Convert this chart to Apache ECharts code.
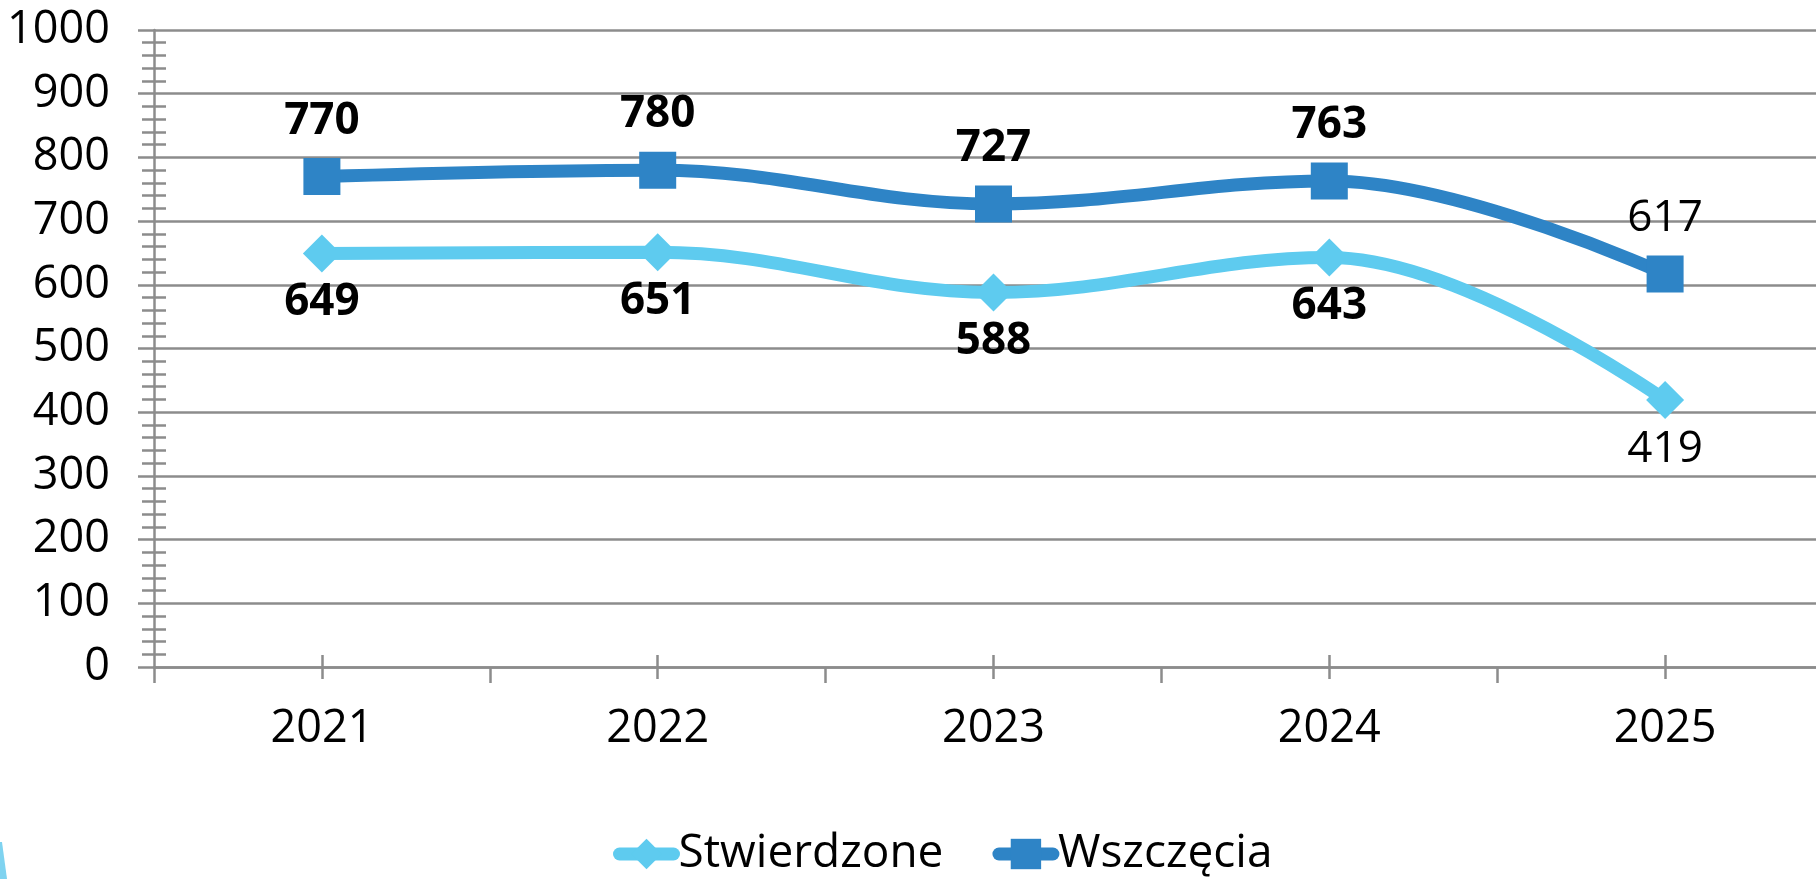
<!DOCTYPE html>
<html>
<head>
<meta charset="utf-8">
<script src="https://cdn.jsdelivr.net/npm/echarts@6/dist/echarts.min.js"></script>
<style>
  html, body { margin: 0; padding: 0; background: #fff; overflow: hidden; }
  /* chart is a bit wider than the window: the plot area runs past the right edge */
  #ec1 { width: 1840px; height: 879px; }
</style>
</head>
<body>
<div id="ec1"></div>
<script>
var years = ['2021', '2022', '2023', '2024', '2025'];
var stwierdzone = [649, 651, 588, 643, 419];
var wszczecia = [770, 780, 727, 763, 617];
var yTicks = [0, 100, 200, 300, 400, 500, 600, 700, 800, 900, 1000];
// last point label is drawn in normal weight in the original
var boldLabels = [true, true, true, true, false];

var FONT = '"Open Sans", "Noto Sans", sans-serif';
var GREY = '#8c8c8c';

function withLabels(values) {
    return values.map(function (v, i) {
        return {value: v, label: {fontWeight: boldLabels[i] ? 'bold' : 'normal'}};
    });
}

var myChart1 = echarts.init(document.getElementById('ec1'));

var option = {
    animation: false,
    color: ['#5ecbef', '#2e84c6'],
    grid: {left: 154, top: 30, right: 7, bottom: 212, containLabel: false},
    legend: {
        left: 608,
        top: 826,
        itemWidth: 54,
        itemHeight: 38,
        itemGap: 49,
        lineStyle: {width: 13, cap: 'round'},
        textStyle: {fontFamily: FONT, fontSize: 46, color: '#000'},
        data: ['Stwierdzone', 'Wszczęcia']
    },
    graphic: [{
        type: 'polygon',
        shape: {points: [[0, 842], [2, 842], [7, 879], [0, 879]]},
        style: {fill: '#7fd3f0'}
    }],
    xAxis: [
        {
            type: 'category',
            data: years,
            position: 'bottom',
            boundaryGap: true,
            axisLine: {lineStyle: {color: GREY, width: 2.5}},
            axisTick: {show: true, alignWithLabel: false, interval: 0, length: 16,
                lineStyle: {color: GREY, width: 2.5}},
            axisLabel: {fontFamily: FONT, fontSize: 45, color: '#000', margin: 40, interval: 0}
        },
        {
            type: 'category',
            data: years,
            position: 'bottom',
            boundaryGap: true,
            axisLine: {show: false},
            axisTick: {show: true, alignWithLabel: true, inside: true, interval: 0, length: 12,
                lineStyle: {color: GREY, width: 2.5}},
            axisLabel: {show: false}
        },
        {
            type: 'category',
            data: years,
            position: 'bottom',
            boundaryGap: true,
            axisLine: {show: false},
            axisTick: {show: true, alignWithLabel: true, interval: 0, length: 12,
                lineStyle: {color: GREY, width: 2.5}},
            axisLabel: {show: false}
        }
    ],
    yAxis: [
        {
            type: 'value',
            position: 'left',
            min: yTicks[0],
            max: yTicks[yTicks.length - 1],
            interval: 100,
            axisLine: {show: true, lineStyle: {color: GREY, width: 2.5}},
            axisTick: {show: true, length: 16, lineStyle: {color: GREY, width: 2.5}},
            minorTick: {show: true, splitNumber: 5, length: 12, lineStyle: {color: GREY, width: 2.5}},
            splitLine: {show: true, lineStyle: {color: GREY, width: 2.5}},
            axisLabel: {fontFamily: FONT, fontSize: 45, color: '#000', margin: 44,
                formatter: function (v) { return String(v); }}
        },
        {
            type: 'value',
            position: 'left',
            min: yTicks[0],
            max: yTicks[yTicks.length - 1],
            interval: 100,
            axisLine: {show: false},
            axisTick: {show: false, inside: true},
            minorTick: {show: true, splitNumber: 5, length: 12, lineStyle: {color: GREY, width: 2.5}},
            splitLine: {show: false},
            axisLabel: {show: false}
        }
    ],
    series: [
        {
            name: 'Stwierdzone',
            type: 'line',
            smooth: 0.38,
            symbol: 'diamond',
            symbolSize: 38,
            lineStyle: {width: 13, color: '#5ecbef'},
            itemStyle: {color: '#5ecbef'},
            label: {show: true, position: 'bottom', distance: 8,
                fontFamily: FONT, fontSize: 44, color: '#000'},
            data: withLabels(stwierdzone)
        },
        {
            name: 'Wszczęcia',
            type: 'line',
            smooth: 0.38,
            symbol: 'rect',
            symbolSize: 37,
            lineStyle: {width: 13, color: '#2e84c6'},
            itemStyle: {color: '#2e84c6'},
            label: {show: true, position: 'top', distance: 15,
                fontFamily: FONT, fontSize: 44, color: '#000'},
            data: withLabels(wszczecia)
        }
    ]
};
myChart1.setOption(option);
</script>
</body>
</html>
